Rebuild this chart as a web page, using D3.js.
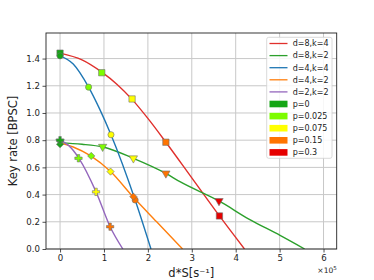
<!DOCTYPE html>
<html><head><meta charset="utf-8">
<script src="https://cdn.jsdelivr.net/npm/d3@7"></script>
<style>body{margin:0;background:#fff}svg{display:block}text{font-family:"DejaVu Sans",sans-serif;fill:#222}</style>
</head><body><svg id="c" width="374" height="280"></svg>
<script>
// ---- data (x in units of 1e5 s^-1) ----
const seriesNames = ["d=8,k=4","d=8,k=2","d=4,k=4","d=4,k=2","d=2,k=2"];
const seriesColors = ["#e0302c","#2ca02c","#1f77b4","#ff7f0e","#9467bd"];
const seriesShapes = ["square","triangleDown","circle","diamond","plus"];

const lineX_d8k4 = [0,0.5,0.95,1.3,1.64,2.0,2.41,3.0,3.63,4.2];
const lineY_d8k4 = [1.44,1.39,1.30,1.21,1.10,0.96,0.785,0.523,0.243,0];
const lineX_d8k2 = [0,0.5,0.98,1.67,2.41,2.73,3.62,4.3,5.01,5.57];
const lineY_d8k2 = [0.78,0.77,0.75,0.667,0.556,0.495,0.353,0.22,0.10,0];
const lineX_d4k4 = [0,0.3,0.65,0.9,1.16,1.71,2.07];
const lineY_d4k4 = [1.42,1.36,1.19,1.03,0.84,0.36,0];
const lineX_d4k2 = [0,0.3,0.70,1.15,1.67,2.2,2.79];
const lineY_d4k2 = [0.78,0.75,0.684,0.569,0.38,0.20,0];
const lineX_d2k2 = [0,0.2,0.43,0.82,1.14,1.43];
const lineY_d2k2 = [0.80,0.76,0.667,0.42,0.164,0];

const pLabels = ["p=0","p=0.025","p=0.075","p=0.15","p=0.3"];
const pColors = ["#15a615","#7dfc00","#ffff00","#ff7400","#e60000"];

const markX_d8k4 = [0,0.95,1.64,2.41,3.63];
const markY_d8k4 = [1.44,1.296,1.103,0.785,0.243];
const markX_d8k2 = [0,0.97,1.67,2.41,3.62];
const markY_d8k2 = [0.79,0.752,0.667,0.556,0.353];
const markX_d4k4 = [0,0.65,1.16,1.71];
const markY_d4k4 = [1.42,1.19,0.84,0.36];
const markX_d4k2 = [0,0.71,1.15,1.67];
const markY_d4k2 = [0.77,0.684,0.569,0.385];
const markX_d2k2 = [0,0.42,0.82,1.14];
const markY_d2k2 = [0.80,0.667,0.42,0.164];

const xTicks = [0,1,2,3,4,5,6];
const yTicks = [0,0.2,0.4,0.6,0.8,1.0,1.2,1.4];

const lineXs = [lineX_d8k4,lineX_d8k2,lineX_d4k4,lineX_d4k2,lineX_d2k2];
const lineYs = [lineY_d8k4,lineY_d8k2,lineY_d4k4,lineY_d4k2,lineY_d2k2];
const markXs = [markX_d8k4,markX_d8k2,markX_d4k4,markX_d4k2,markX_d2k2];
const markYs = [markY_d8k4,markY_d8k2,markY_d4k4,markY_d4k2,markY_d2k2];

// ---- layout ----
const W=374,H=280, m={l:46,t:33,r:37.3,b:31};
const svg=d3.select("#c");
const x=d3.scaleLinear().domain([-0.32,6.3]).range([m.l,W-m.r]);
const y=d3.scaleLinear().domain([0,1.588]).range([H-m.b,m.t]);

// grid
const g=svg.append("g");
g.selectAll(".gx").data(xTicks).join("line")
 .attr("x1",d=>x(d)).attr("x2",d=>x(d)).attr("y1",m.t).attr("y2",H-m.b)
 .attr("stroke","#c8c8c8").attr("stroke-width",1);
g.selectAll(".gy").data(yTicks).join("line")
 .attr("y1",d=>y(d)).attr("y2",d=>y(d)).attr("x1",m.l).attr("x2",W-m.r)
 .attr("stroke","#c8c8c8").attr("stroke-width",1);

svg.append("defs").append("clipPath").attr("id","clip").append("rect")
 .attr("x",m.l).attr("y",m.t).attr("width",W-m.l-m.r).attr("height",H-m.t-m.b);

const line=d3.line().x(d=>x(d[0])).y(d=>y(d[1])).curve(d3.curveMonotoneX);
const lg=svg.append("g").attr("clip-path","url(#clip)");
seriesNames.forEach((n,i)=>{
  const pts=lineXs[i].map((v,j)=>[v,lineYs[i][j]]);
  lg.append("path").datum(pts).attr("d",line).attr("fill","none")
    .attr("stroke",seriesColors[i]).attr("stroke-width",1.4);
});

function sym(shape){
  switch(shape){
    case "square": return {t:d3.symbolSquare,s:40,r:0};
    case "triangleDown": return {t:d3.symbolTriangle,s:30,r:180};
    case "circle": return {t:d3.symbolCircle,s:30,r:0};
    case "diamond": return {t:d3.symbolSquare,s:26,r:45};
    case "plus": return {t:d3.symbolCross,s:30,r:0};
  }
}
const mg=svg.append("g");
seriesNames.forEach((n,i)=>{
  const s=sym(seriesShapes[i]);
  const path=d3.symbol().type(s.t).size(s.s)();
  markXs[i].forEach((v,j)=>{
    mg.append("path").attr("d",path)
      .attr("transform",`translate(${x(v)},${y(markYs[i][j])}) rotate(${s.r})`)
      .attr("fill",pColors[j]).attr("stroke","#707070").attr("stroke-width",0.6);
  });
});

// axes
const xa=svg.append("g").attr("transform",`translate(0,${H-m.b})`)
 .call(d3.axisBottom(x).tickValues(xTicks).tickFormat(d3.format("d")).tickSize(3.5).tickPadding(2.5));
const ya=svg.append("g").attr("transform",`translate(${m.l},0)`)
 .call(d3.axisLeft(y).tickValues(yTicks).tickFormat(d3.format(".1f")).tickSize(3.5).tickPadding(2.5));
[xa,ya].forEach(a=>{a.select(".domain").remove();
  a.selectAll("text").style("font-size","8.6px").attr("fill","#222");
  a.selectAll("line").attr("stroke","#222").attr("stroke-width",0.8);});
svg.append("rect").attr("x",m.l).attr("y",m.t).attr("width",W-m.l-m.r).attr("height",H-m.t-m.b)
 .attr("fill","none").attr("stroke","#222").attr("stroke-width",0.9);

// labels
svg.append("text").attr("x",(m.l+W-m.r)/2).attr("y",277).attr("text-anchor","middle")
 .style("font-size","11.5px").text("d*S[s⁻¹]");
svg.append("text").attr("transform",`translate(17,${(m.t+H-m.b)/2}) rotate(-90)`)
 .attr("text-anchor","middle").style("font-size","11.5px").text("Key rate [BPSC]");
const off=svg.append("text").attr("x",W-m.r).attr("y",273).attr("text-anchor","end").style("font-size","7.5px");
off.append("tspan").text("×10");
off.append("tspan").attr("dy",-3).style("font-size","5.5px").text("5");

// legend
const L=svg.append("g");
L.append("rect").attr("x",266.7).attr("y",37.3).attr("width",65.3).attr("height",121)
 .attr("rx",2).attr("fill","#fff").attr("fill-opacity",0.85).attr("stroke","#d0d0d0").attr("stroke-width",0.8);
seriesNames.forEach((n,i)=>{
  const yy=43.5+i*12.1;
  L.append("line").attr("x1",269.5).attr("x2",287.5).attr("y1",yy).attr("y2",yy)
   .attr("stroke",seriesColors[i]).attr("stroke-width",1.3);
  L.append("text").attr("x",292.7).attr("y",yy).attr("dy","0.35em").style("font-size","8px").text(n);
});
pLabels.forEach((n,i)=>{
  const yy=43.5+(i+5)*12.1;
  L.append("rect").attr("x",269.5).attr("y",yy-3.3).attr("width",18).attr("height",6.6).attr("fill",pColors[i]);
  L.append("text").attr("x",292.7).attr("y",yy).attr("dy","0.35em").style("font-size","8px").text(n);
});
</script></body></html>
